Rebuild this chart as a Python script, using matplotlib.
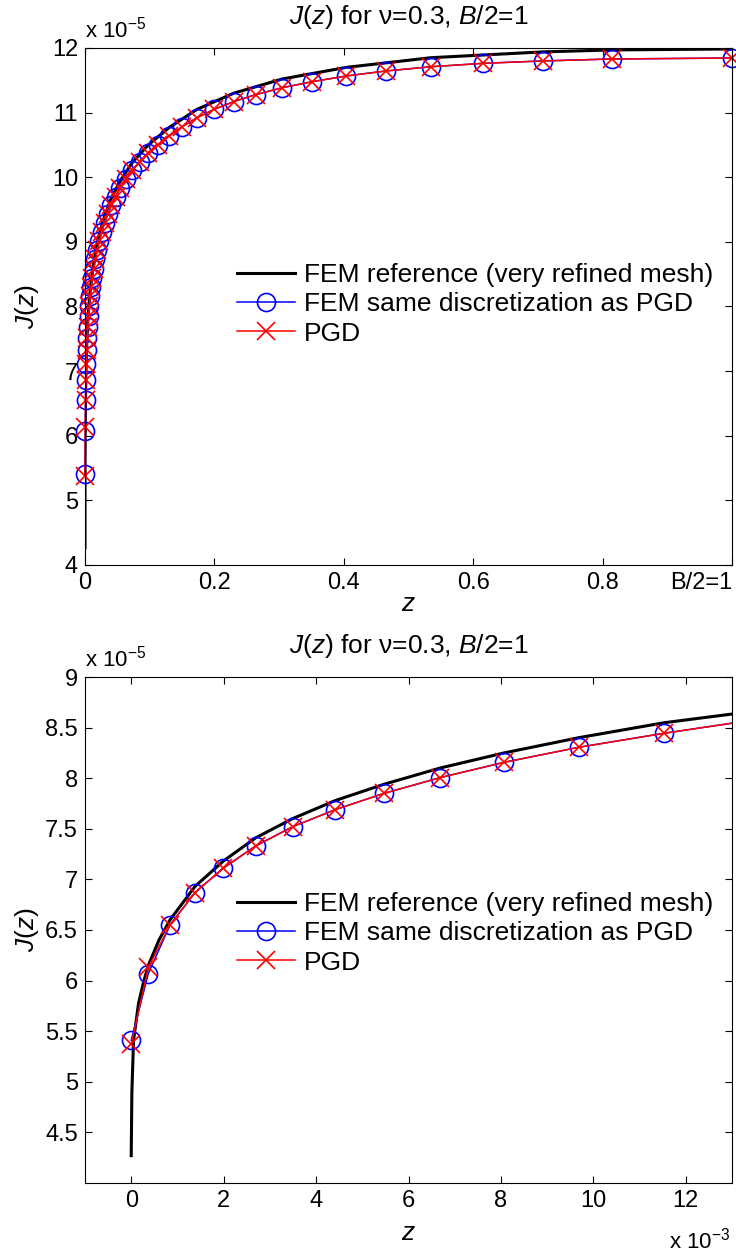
import matplotlib
matplotlib.use('Agg')
import matplotlib.pyplot as plt
from matplotlib.ticker import FuncFormatter

plt.rcParams['font.family'] = ['Liberation Sans', 'DejaVu Sans']
plt.rcParams['mathtext.fontset'] = 'custom'
plt.rcParams['mathtext.rm'] = 'Liberation Sans'
plt.rcParams['mathtext.it'] = 'Liberation Sans:italic'

# mesh nodes (z) of the PGD / FEM discretization
z_nodes = [0, 0.00037, 0.00084, 0.00138, 0.00199, 0.00269, 0.00349, 0.00442,
           0.00547, 0.00668, 0.00807, 0.00968, 0.01153, 0.01366, 0.0161,
           0.0189, 0.0222, 0.0259, 0.0302, 0.0351, 0.0408, 0.0473, 0.0548,
           0.0634, 0.0733, 0.0847, 0.0978, 0.1129, 0.1302, 0.1501, 0.1730,
           0.1994, 0.2297, 0.2646, 0.3047, 0.3508, 0.4038, 0.4648, 0.5349,
           0.6155, 0.7082, 0.8148, 1.0]
# J(z) in units of 1e-5
J_fem = [5.41, 6.07, 6.55, 6.87, 7.11, 7.33, 7.52, 7.69, 7.85, 8.005, 8.157,
         8.305, 8.444, 8.588, 8.73, 8.87, 9.012, 9.15, 9.289, 9.426, 9.564,
         9.70, 9.836, 9.971, 10.105, 10.239, 10.372, 10.504, 10.64, 10.78,
         10.92, 11.05, 11.17, 11.28, 11.385, 11.478, 11.567, 11.644, 11.71,
         11.763, 11.80, 11.83, 11.845]
J_pgd = [5.37, 6.13, 6.55, 6.87, 7.11, 7.33, 7.52, 7.69, 7.85, 8.005, 8.157,
         8.305, 8.444, 8.588, 8.73, 8.87, 9.012, 9.15, 9.289, 9.426, 9.564,
         9.70, 9.836, 9.971, 10.105, 10.239, 10.372, 10.504, 10.64, 10.78,
         10.92, 11.05, 11.17, 11.28, 11.385, 11.478, 11.567, 11.644, 11.71,
         11.763, 11.80, 11.83, 11.845]

# reference solution on a very refined mesh
ref_z = [0, 0.000014, 0.00005, 0.00016, 0.00027, 0.00037, 0.0006, 0.00084,
         0.00138, 0.00199, 0.00269, 0.00349, 0.00442, 0.00547, 0.00668,
         0.00807, 0.00968, 0.01153, 0.013, 0.0161, 0.0222, 0.0302, 0.0408,
         0.0548, 0.0733, 0.0978, 0.1302, 0.173, 0.2297, 0.3047, 0.4038,
         0.5349, 0.7082, 0.8148, 1.0]
ref_J = [4.27, 4.89, 5.41, 5.78, 5.99, 6.15, 6.40, 6.60, 6.93, 7.18, 7.41,
         7.60, 7.78, 7.94, 8.10, 8.25, 8.40, 8.548, 8.634, 8.84, 9.12, 9.40,
         9.68, 9.95, 10.23, 10.50, 10.77, 11.05, 11.30, 11.52, 11.70, 11.85,
         11.94, 11.97, 11.985]

labels = ['FEM reference (very refined mesh)',
          'FEM same discretization as PGD', 'PGD']
title = r'$J$($z$) for ν=0.3, $B$/2=1'

W, H = 736, 1254
fig = plt.figure(figsize=(W / 100, H / 100), dpi=100)
ax1 = fig.add_axes([85 / W, 1 - 565 / H, 647 / W, 517 / H])
ax2 = fig.add_axes([85 / W, 1 - 1183 / H, 647 / W, 506 / H])


def draw(ax, clip, leg_top):
    ax.plot(ref_z, ref_J, color='k', lw=2.2, label=labels[0])
    ax.plot(z_nodes, J_fem, color='b', lw=1.1, marker='o', ms=13,
            mfc='none', mew=1.2, label=labels[1], clip_on=clip)
    ax.plot(z_nodes, J_pgd, color='r', lw=1.1, marker='x', ms=13,
            mew=1.2, label=labels[2], clip_on=clip)
    ax.tick_params(direction='in', top=True, right=True, length=5,
                   width=0.8, labelsize=17, pad=5)
    for s in ax.spines.values():
        s.set_linewidth(0.8)
    ax.set_title(title, fontsize=19, pad=17)
    ax.set_xlabel('$z$', fontsize=19)
    ax.set_ylabel('$J$($z$)', fontsize=19)
    ax.yaxis.set_label_coords(-44 / 647, 0.5)
    ax.legend(loc='upper left', frameon=False, fontsize=19,
              handlelength=2.2, handletextpad=0.35, borderpad=0,
              borderaxespad=0, labelspacing=0.2,
              bbox_transform=fig.transFigure,
              bbox_to_anchor=(237 / W, 1 - leg_top / H))


# top: whole width
draw(ax1, False, 263)
ax1.set_xlim(0, 1)
ax1.set_ylim(4, 12)
ax1.set_xticks([0, 0.2, 0.4, 0.6, 0.8, 1.0])
ax1.set_xticklabels(['0', '0.2', '0.4', '0.6', '0.8', 'B/2=1'])
last = ax1.get_xticklabels()[-1]
last.set_horizontalalignment('right')
ax1.set_yticks(range(4, 13))
ax1.xaxis.set_label_coords(0.5, -27 / 517)
ax1.text(0, 1.01, r'x 10$^{-5}$', transform=ax1.transAxes, fontsize=16,
         ha='left', va='bottom')

# bottom: zoom near z = 0
draw(ax2, True, 892)
ax2.set_xlim(-0.001, 0.013)
ax2.set_ylim(4, 9)
ax2.set_xticks([0, 0.002, 0.004, 0.006, 0.008, 0.010, 0.012])
ax2.xaxis.set_major_formatter(FuncFormatter(lambda v, p: '%g' % round(v * 1e3, 6)))
ax2.set_yticks([4.5, 5, 5.5, 6, 6.5, 7, 7.5, 8, 8.5, 9])
ax2.yaxis.set_major_formatter(FuncFormatter(lambda v, p: '%g' % v))
ax2.xaxis.set_label_coords(0.5, -38 / 506)
ax2.text(0, 1.01, r'x 10$^{-5}$', transform=ax2.transAxes, fontsize=16,
         ha='left', va='bottom')
ax2.text(0.998, -66 / 506, r'x 10$^{-3}$', transform=ax2.transAxes,
         fontsize=16, ha='right', va='baseline')

fig.savefig('out.png', dpi=100)
